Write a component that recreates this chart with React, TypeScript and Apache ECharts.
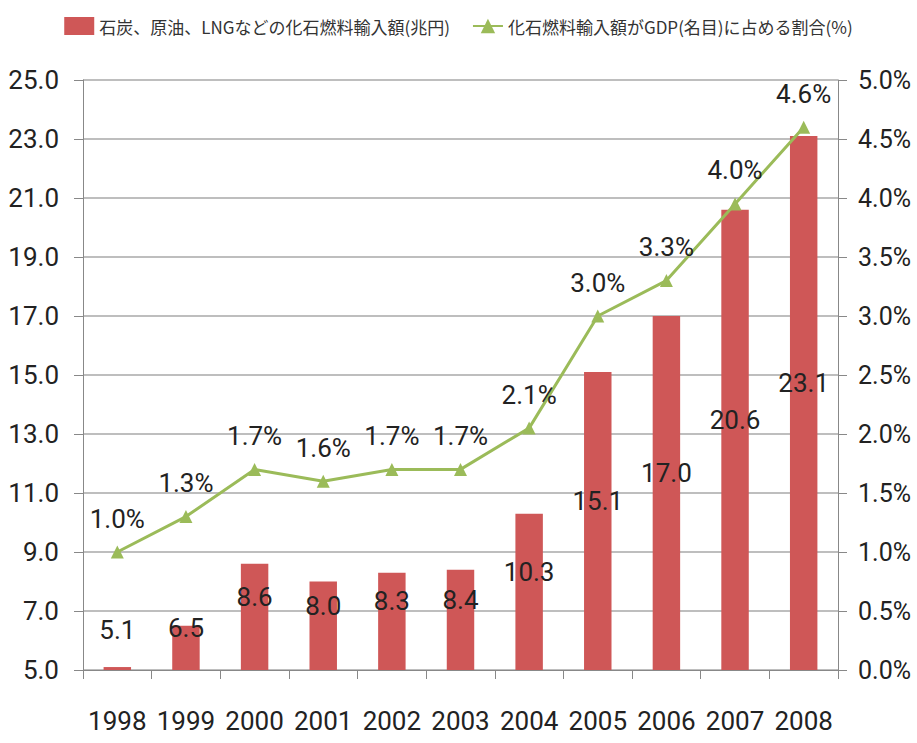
import React, { useEffect, useRef } from "react";
import * as echarts from "echarts";

const years = ["1998", "1999", "2000", "2001", "2002", "2003", "2004", "2005", "2006", "2007", "2008"];
const importValues = [5.1, 6.5, 8.6, 8.0, 8.3, 8.4, 10.3, 15.1, 17.0, 20.6, 23.1];
const gdpShare = [1.0, 1.3, 1.7, 1.6, 1.7, 1.7, 2.05, 3.0, 3.3, 3.95, 4.6];
const gdpShareLabels = ["1.0%", "1.3%", "1.7%", "1.6%", "1.7%", "1.7%", "2.1%", "3.0%", "3.3%", "4.0%", "4.6%"];

const barName = "石炭、原油、LNGなどの化石燃料輸入額(兆円)";
const lineName = "化石燃料輸入額がGDP(名目)に占める割合(%)";

const NUM_FONT = "Roboto, 'Liberation Sans', sans-serif";
const CJK_FONT = "'Noto Sans CJK JP', 'Noto Sans', sans-serif";

export default function App() {
  const ref = useRef<HTMLDivElement>(null);
  useEffect(() => {
    document.body.style.margin = "0";
    if (!ref.current) return;
    const chart = echarts.init(ref.current, undefined, { renderer: "svg" });
    chart.setOption({
      animation: false,
      backgroundColor: "#ffffff",
      legend: {
        top: 12,
        left: "center",
        itemGap: 22,
        itemWidth: 30,
        itemHeight: 18,
        textStyle: { fontFamily: CJK_FONT, fontSize: 17, color: "#333" },
        data: [
          { name: barName, icon: "rect" },
          { name: lineName },
        ],
      },
      grid: { left: 83, right: 79, top: 80, bottom: 73, containLabel: false },
      xAxis: {
        type: "category",
        data: years,
        axisLine: { lineStyle: { color: "#888", width: 1 } },
        axisTick: { show: true, length: 9, lineStyle: { color: "#888" } },
        axisLabel: { interval: 0, fontFamily: NUM_FONT, fontSize: 26, color: "#222", margin: 38 },
      },
      yAxis: [
        {
          type: "value",
          min: 5,
          max: 25,
          interval: 2,
          axisLine: { show: true, lineStyle: { color: "#888" } },
          axisTick: { show: true, length: 9, lineStyle: { color: "#888" } },
          splitLine: { lineStyle: { color: "#a8a8a8", width: 1.5 } },
          axisLabel: {
            fontFamily: NUM_FONT,
            fontSize: 26,
            color: "#222",
            margin: 24,
            formatter: (v: number) => v.toFixed(1),
          },
        },
        {
          type: "value",
          min: 0,
          max: 5,
          interval: 0.5,
          axisLine: { show: true, lineStyle: { color: "#888" } },
          axisTick: { show: true, length: 9, lineStyle: { color: "#888" } },
          splitLine: { show: false },
          axisLabel: {
            fontFamily: NUM_FONT,
            fontSize: 25,
            color: "#222",
            margin: 20,
            formatter: (v: number) => v.toFixed(1) + "%",
          },
        },
      ],
      series: [
        {
          name: barName,
          type: "bar",
          yAxisIndex: 0,
          barWidth: "40%",
          itemStyle: { color: "#CF5757" },
          data: importValues.map((v) =>
            v < 6 ? { value: v, label: { position: "top", distance: 24, offset: [0, 0] } } : v
          ),
          label: {
            show: true,
            position: "inside",
            offset: [0, -20],
            fontFamily: NUM_FONT,
            fontSize: 26,
            color: "#222",
            formatter: (p: any) => Number(p.value).toFixed(1),
          },
          z: 1,
        },
        {
          name: lineName,
          type: "line",
          yAxisIndex: 1,
          data: gdpShare,
          symbol: "triangle",
          symbolSize: 13,
          lineStyle: { color: "#9BBB59", width: 3 },
          itemStyle: { color: "#9BBB59" },
          label: {
            show: true,
            position: "top",
            distance: 14,
            fontFamily: NUM_FONT,
            fontSize: 26,
            color: "#222",
            formatter: (p: any) => gdpShareLabels[p.dataIndex],
          },
          z: 3,
        },
      ],
    });
    return () => chart.dispose();
  }, []);
  return <div ref={ref} style={{ width: 917, height: 743 }} />;
}
